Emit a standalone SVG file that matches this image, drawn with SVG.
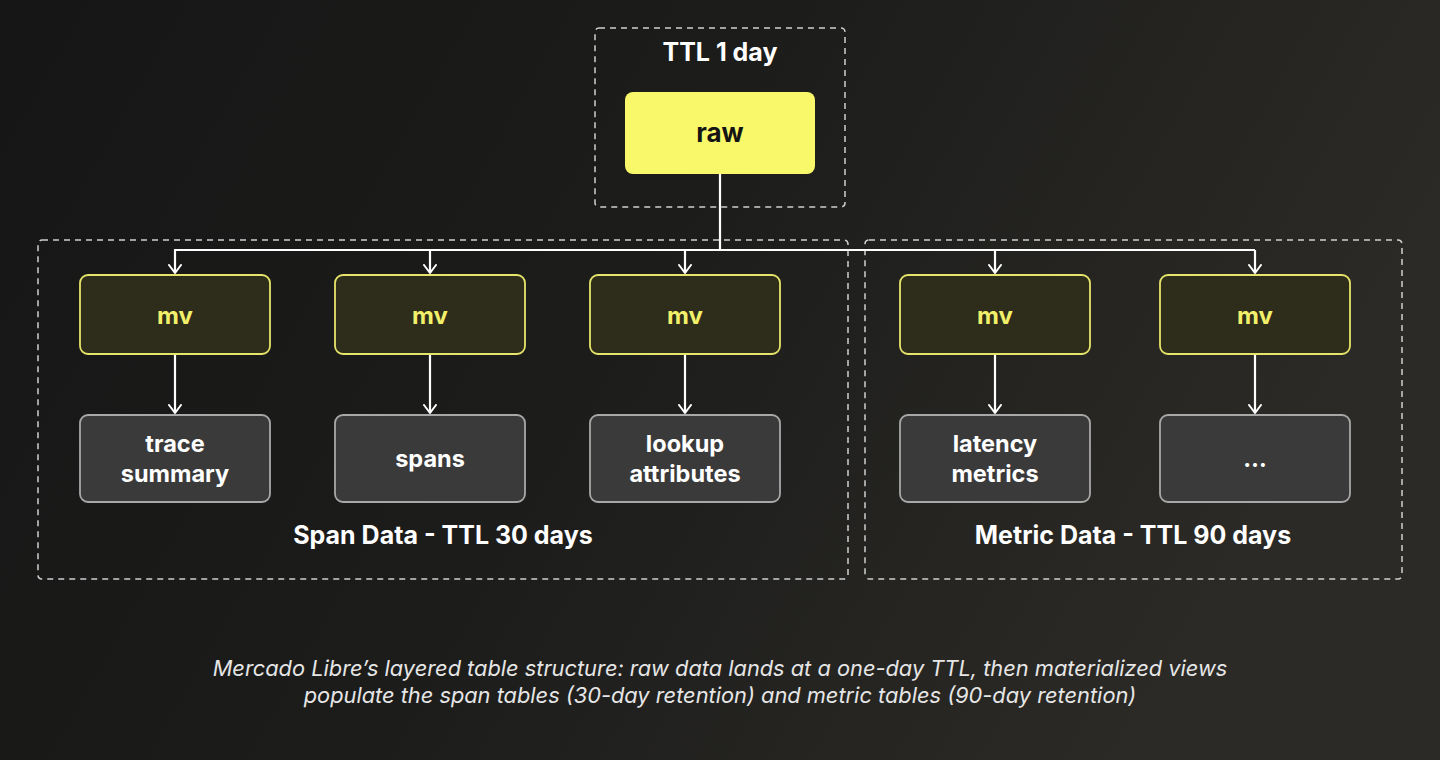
<svg xmlns="http://www.w3.org/2000/svg" width="1440" height="760" viewBox="0 0 1440 760">
<defs>
<linearGradient id="bg" x1="0" y1="0" x2="1" y2="0.3">
<stop offset="0" stop-color="#161616"/>
<stop offset="0.5" stop-color="#1c1c1b"/>
<stop offset="1" stop-color="#2b2a26"/>
</linearGradient>
<marker id="chev" viewBox="0 0 10 14" refX="9" refY="7" markerWidth="10" markerHeight="14" markerUnits="userSpaceOnUse" orient="auto">
<path d="M1,1 L9,7 L1,13" fill="none" stroke="#ffffff" stroke-width="2" stroke-linecap="round" stroke-linejoin="round"/>
</marker>
</defs>
<style>
.grp{fill:none;stroke:#cfcfcf;stroke-width:1.5;stroke-dasharray:6 5}
.mv rect{fill:#2e2c1a;stroke:#e6e46a;stroke-width:1.8}
.mv text{fill:#f2f06a;font-family:Inter,"Liberation Sans",sans-serif;font-weight:700;font-size:24px;text-anchor:middle}
.tb rect{fill:#3a3a3a;stroke:#a8a8a8;stroke-width:1.8}
.tb text{fill:#ffffff;font-family:Inter,"Liberation Sans",sans-serif;font-weight:700;font-size:23.5px;text-anchor:middle}
.lbl{fill:#ffffff;font-family:Inter,"Liberation Sans",sans-serif;font-weight:700;font-size:25px;text-anchor:middle}
.cap{fill:#e6e6e6;font-family:Inter,"Liberation Sans",sans-serif;font-style:italic;font-size:21.8px;text-anchor:middle}
.conn{fill:none;stroke:#ffffff;stroke-width:2.2}
</style>
<rect width="1440" height="760" fill="url(#bg)"/>

<g id="group-ttl1">
<rect class="grp" x="595" y="28" width="250" height="179" rx="4"/>
<text class="lbl" x="720" y="61">TTL 1 day</text>
</g>
<g id="group-span">
<rect class="grp" x="38" y="240" width="810" height="339" rx="4"/>
<text class="lbl" x="443" y="544">Span Data - TTL 30 days</text>
</g>
<g id="group-metric">
<rect class="grp" x="865" y="240" width="537" height="339" rx="4"/>
<text class="lbl" x="1133" y="544">Metric Data - TTL 90 days</text>
</g>

<g id="connectors">
<path class="conn" d="M720,174 V250"/>
<path class="conn" d="M174,250 H1255"/>
<path class="conn" d="M175,250 V273" marker-end="url(#chev)"/>
<path class="conn" d="M430,250 V273" marker-end="url(#chev)"/>
<path class="conn" d="M685,250 V273" marker-end="url(#chev)"/>
<path class="conn" d="M995,250 V273" marker-end="url(#chev)"/>
<path class="conn" d="M1255,250 V273" marker-end="url(#chev)"/>
<path class="conn" d="M175,354 V413" marker-end="url(#chev)"/>
<path class="conn" d="M430,354 V413" marker-end="url(#chev)"/>
<path class="conn" d="M685,354 V413" marker-end="url(#chev)"/>
<path class="conn" d="M995,354 V413" marker-end="url(#chev)"/>
<path class="conn" d="M1255,354 V413" marker-end="url(#chev)"/>
</g>

<g id="raw">
<rect x="625" y="92" width="190" height="82" rx="8" fill="#f8f86a"/>
<text x="720" y="142" fill="#141414" font-family="Inter,'Liberation Sans',sans-serif" font-weight="700" font-size="26" text-anchor="middle">raw</text>
</g>

<g id="mv1" class="mv"><rect x="80" y="275" width="190" height="79" rx="8"/><text x="175" y="324">mv</text></g>
<g id="mv2" class="mv"><rect x="335" y="275" width="190" height="79" rx="8"/><text x="430" y="324">mv</text></g>
<g id="mv3" class="mv"><rect x="590" y="275" width="190" height="79" rx="8"/><text x="685" y="324">mv</text></g>
<g id="mv4" class="mv"><rect x="900" y="275" width="190" height="79" rx="8"/><text x="995" y="324">mv</text></g>
<g id="mv5" class="mv"><rect x="1160" y="275" width="190" height="79" rx="8"/><text x="1255" y="324">mv</text></g>

<g id="trace-summary" class="tb"><rect x="80" y="415" width="190" height="87" rx="8"/><text x="175" y="452">trace</text><text x="175" y="482">summary</text></g>
<g id="spans" class="tb"><rect x="335" y="415" width="190" height="87" rx="8"/><text x="430" y="467">spans</text></g>
<g id="lookup-attributes" class="tb"><rect x="590" y="415" width="190" height="87" rx="8"/><text x="685" y="452">lookup</text><text x="685" y="482">attributes</text></g>
<g id="latency-metrics" class="tb"><rect x="900" y="415" width="190" height="87" rx="8"/><text x="995" y="452">latency</text><text x="995" y="482">metrics</text></g>
<g id="more" class="tb"><rect x="1160" y="415" width="190" height="87" rx="8"/><text x="1255" y="467">…</text></g>

<text class="cap" x="720" y="676">Mercado Libre’s layered table structure: raw data lands at a one-day TTL, then materialized views</text>
<text class="cap" x="720" y="703">populate the span tables (30-day retention) and metric tables (90-day retention)</text>
</svg>
